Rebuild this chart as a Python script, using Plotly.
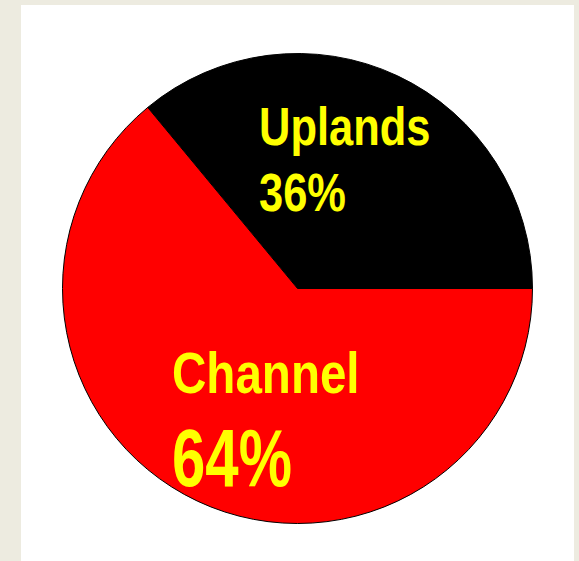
import plotly.graph_objects as go

labels = ["Uplands", "Channel"]
values = [36, 64]
colors = ["#000000", "#FF0000"]
pct_text = ["36%", "64%"]

W, H = 579, 561
FONT = "Liberation Sans, Arial, sans-serif"

fig = go.Figure(go.Pie(
    labels=labels, values=values, sort=False,
    direction="clockwise", rotation=-39.6,
    marker=dict(colors=colors, line=dict(color="#000000", width=1)),
    textinfo="none", hoverinfo="label+percent",
    domain=dict(x=[62.5 / W, 532.5 / W], y=[37.5 / H, 507.5 / H]),
    showlegend=False,
))

def px_to_paper(x, y):
    return x / W, 1 - y / H

# text, left px, middle px, font size, horizontal squeeze
annos = [
    (labels[0], 257, 126, 53, 0.82),
    (pct_text[0], 257, 192, 53, 0.82),
    (labels[1], 170, 372, 58, 0.82),
    (pct_text[1], 170, 458, 81, 0.74),
]
for txt, x, y, size, _ in annos:
    px, py = px_to_paper(x, y)
    fig.add_annotation(
        x=px, y=py, xref="paper", yref="paper", xanchor="left", yanchor="middle",
        text="<b>%s</b>" % txt, showarrow=False,
        font=dict(family=FONT, size=size, color="#FFFF00"),
    )

fig.add_shape(type="rect", xref="paper", yref="paper",
              x0=21 / W, x1=574 / W, y0=0, y1=1 - 5 / H,
              fillcolor="#FFFFFF", line=dict(width=0), layer="below")

fig.update_layout(
    width=W, height=H, margin=dict(l=0, r=0, t=0, b=0),
    paper_bgcolor="#EDEBE0", plot_bgcolor="#FFFFFF",
)

scales = [a[4] for a in annos]
post = """
var gd = document.getElementById('{plot_id}');
var sc = %s;
function squeeze(){
  var ts = gd.querySelectorAll('.annotation-text');
  ts.forEach(function(t, i){
    t.removeAttribute('transform');
    var b = t.getBBox();
    var x0 = b.x;
    t.setAttribute('transform', 'translate(' + x0 + ',0) scale(' + sc[i] + ',1) translate(' + (-x0) + ',0)');
  });
}
squeeze();
gd.on('plotly_afterplot', squeeze);
""" % str(scales)

fig.write_html("out.html", post_script=post)
